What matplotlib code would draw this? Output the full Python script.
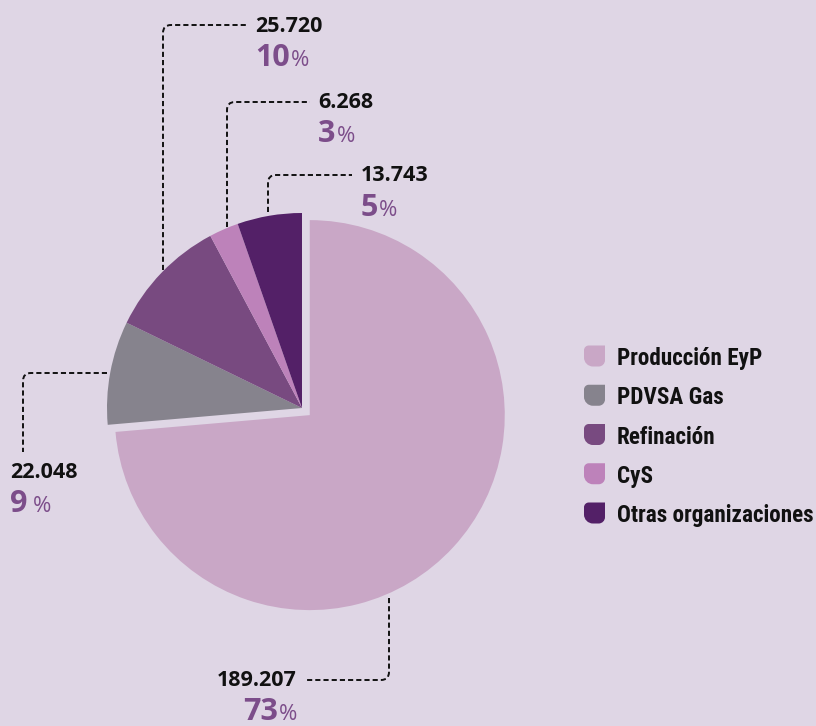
import matplotlib
matplotlib.use("Agg")
import matplotlib.pyplot as plt
from matplotlib.path import Path
from matplotlib.patches import PathPatch
from matplotlib import font_manager as fm
import numpy as np

plt.rcParams['lines.scale_dashes'] = False

# ---------------- data ----------------
categories = ["Producción EyP", "PDVSA Gas", "Refinación", "CyS", "Otras organizaciones"]
values = [189.207, 22.048, 25.720, 6.268, 13.743]
value_labels = ["189.207", "22.048", "25.720", "6.268", "13.743"]
pct_labels = ["73", "9", "10", "3", "5"]
colors = ["#c9a7c6", "#86838d", "#784a80", "#bd82ba", "#532067"]

BG = "#dfd6e5"
PURPLE = "#7c4d8a"
W, H = 816, 726

fig = plt.figure(figsize=(W / 100, H / 100), dpi=100, facecolor=BG)
ax = fig.add_axes([0, 0, 1, 1])
ax.set_facecolor(BG)

def Y(y):
    return H - y

R = 195
cx, cy = 302, 408
ax.pie(values, colors=colors, startangle=90, counterclock=False,
       center=(cx, Y(cy)), radius=R, explode=[0.054 * R, 0, 0, 0, 0],
       wedgeprops=dict(linewidth=0))
ax.set_xlim(0, W)
ax.set_ylim(0, H)
ax.set_aspect('equal')
ax.axis('off')

# ---------------- leader lines (image coordinates) ----------------
leaders = {
    0: [(389, 598), (389, 680), (307, 680)],
    1: [(107, 373), (23, 373), (23, 452)],
    2: [(163, 270), (163, 25), (247, 25)],
    3: [(227, 227), (227, 102), (310, 102)],
    4: [(268, 212), (268, 175), (352, 175)],
}

def elbow(points, r=8):
    p0, p1, p2 = [np.array((x, Y(y)), dtype=float) for x, y in points]
    d01 = (p1 - p0) / np.linalg.norm(p1 - p0)
    d12 = (p2 - p1) / np.linalg.norm(p2 - p1)
    verts = [p0, p1 - r * d01, p1, p1 + r * d12, p2]
    codes = [Path.MOVETO, Path.LINETO, Path.CURVE3, Path.CURVE3, Path.LINETO]
    return Path(verts, codes)

for i, pts in leaders.items():
    ax.add_patch(PathPatch(elbow(pts), fill=False, edgecolor="#111111",
                           linewidth=1.4, linestyle=(0, (3.7, 2.2)),
                           capstyle='butt'))

# ---------------- labels ----------------
label_pos = {
    0: (297, 686, 'right'),
    1: (10, 478, 'left'),
    2: (255, 32, 'left'),
    3: (318, 108, 'left'),
    4: (361, 181, 'left'),
}
num_font = dict(family=['Open Sans', 'DejaVu Sans'], fontsize=15.5, fontweight='bold', color="#111111")
pct_font = dict(family=['Open Sans', 'DejaVu Sans'], fontsize=22, fontweight='bold', color=PURPLE)
sign_font = dict(family=['Open Sans', 'DejaVu Sans'], fontsize=16, fontweight='normal', color=PURPLE)

renderer = fig.canvas.get_renderer()
for i in range(len(values)):
    x, yb, ha = label_pos[i]
    ax.text(x, Y(yb), value_labels[i], ha=ha, va='baseline', **num_font)
    pb = yb + 34.5
    gap = 5 if i == 1 else 1
    if ha == 'left':
        t = ax.text(x, Y(pb), pct_labels[i], ha='left', va='baseline', **pct_font)
        w = t.get_window_extent(renderer).width
        ax.text(x + w + gap, Y(pb), "%", ha='left', va='baseline', **sign_font)
    else:
        s = ax.text(x, Y(pb), "%", ha='right', va='baseline', **sign_font)
        w = s.get_window_extent(renderer).width
        ax.text(x - w - gap, Y(pb), pct_labels[i], ha='right', va='baseline', **pct_font)

# ---------------- legend ----------------
def leaf(xc, yc, s=10.5):
    k = 0.55
    rtl, rbl, rbr = 0.45, 0.85, 0.6
    def P(px, py):
        return (xc + px * s, yc + py * s)
    verts = [
        P(1, 1),
        P(1, -1 + rbr),
        P(1, -1 + rbr * (1 - k)), P(1 - rbr * (1 - k), -1), P(1 - rbr, -1),
        P(-1 + rbl, -1),
        P(-1 + rbl * (1 - k), -1), P(-1, -1 + rbl * (1 - k)), P(-1, -1 + rbl),
        P(-1, 1 - rtl),
        P(-1, 1 - rtl * (1 - k)), P(-1 + rtl * (1 - k), 1), P(-1 + rtl, 1),
        P(1, 1),
    ]
    codes = [Path.MOVETO, Path.LINETO,
             Path.CURVE4, Path.CURVE4, Path.CURVE4,
             Path.LINETO,
             Path.CURVE4, Path.CURVE4, Path.CURVE4,
             Path.LINETO,
             Path.CURVE4, Path.CURVE4, Path.CURVE4,
             Path.CLOSEPOLY]
    return Path(verts, codes)

# pick a condensed bold font if one is installed
names = {f.name for f in fm.fontManager.ttflist}
leg_family, leg_stretch = 'DejaVu Sans', 'condensed'
for cand in ['Liberation Sans Narrow', 'Roboto Condensed', 'Open Sans Condensed',
             'Noto Sans Condensed', 'DejaVu Sans Condensed', 'Arial Narrow']:
    if cand in names:
        leg_family, leg_stretch = cand, 'normal'
        break

leg_x, leg_y0, leg_dy = 594.5, 356, 39.25
leg_font = dict(family=[leg_family, 'DejaVu Sans'], fontstretch=leg_stretch,
                fontweight='bold', color="#111111")
# fit the longest entry to the reference's text width
probe = ax.text(0, 0, categories[4], fontsize=16.5, **leg_font)
pw = probe.get_window_extent(renderer).width
probe.remove()
leg_size = min(17.5, 16.5 * 197.0 / pw)

for i, name in enumerate(categories):
    yc = leg_y0 + i * leg_dy
    ax.add_patch(PathPatch(leaf(leg_x, Y(yc)), facecolor=colors[i], edgecolor='none'))
    ax.text(617, Y(yc), name, ha='left', va='center_baseline', fontsize=leg_size, **leg_font)

fig.savefig("out.png", dpi=100, facecolor=BG)
